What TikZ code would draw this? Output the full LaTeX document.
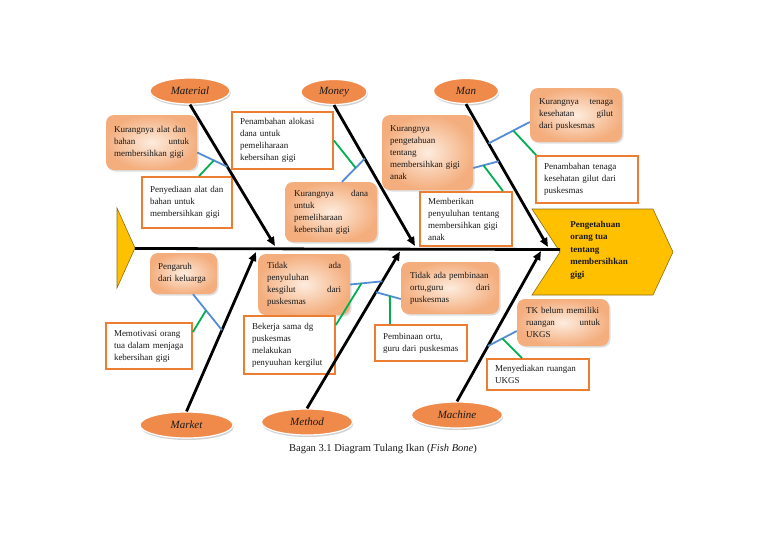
\documentclass[tikz,border=0pt]{standalone}
\usepackage{fontspec}
\setmainfont{Liberation Serif}
\usetikzlibrary{arrows.meta,shapes.geometric,shadows,calc}
\definecolor{borange}{RGB}{237,125,49}
\definecolor{pinner}{RGB}{253,236,222}
\definecolor{pouter}{RGB}{244,174,126}
\definecolor{ellorange}{RGB}{240,138,74}
\definecolor{hyellow}{RGB}{255,192,0}
\definecolor{hborder}{RGB}{140,110,20}
\definecolor{bbone}{RGB}{84,141,212}
\definecolor{gbone}{RGB}{0,176,80}
\definecolor{txt}{RGB}{25,25,25}
\newcommand\bxfont{\fontsize{9}{12}\selectfont}
\begin{document}
\begin{tikzpicture}[x=1pt,y=-1pt,
 rbox/.style={rectangle,rounded corners=8pt,inner color=pinner,outer color=pouter,
   drop shadow={opacity=0.25,shadow xshift=1.5pt,shadow yshift=-1.5pt},
   align=left,font=\bxfont,text=txt,inner xsep=8pt,inner ysep=2pt},
 wbox/.style={rectangle,draw=borange,line width=1.8pt,fill=white,align=left,
   font=\bxfont,text=txt,inner xsep=8pt,inner ysep=2pt},
 cat/.style={ellipse,fill=ellorange,draw=white,line width=1.2pt,
   drop shadow={opacity=0.35,shadow xshift=0.8pt,shadow yshift=-2pt},
   font=\fontsize{11}{13}\selectfont\itshape,text=txt,inner sep=0pt},
 bone/.style={line width=2.8pt,-{Triangle[length=9pt,width=7.5pt]}},
 bluebone/.style={draw=bbone,line width=1.8pt},
 greenbone/.style={draw=gbone,line width=1.8pt},
 headtxt/.style={align=left,font=\fontsize{9}{12.5}\selectfont\bfseries,text=txt,inner sep=0pt},
]
\useasboundingbox[fill=white] (0,0) rectangle (768,543);

% tail and head
\filldraw[fill=hyellow,draw=hborder,line width=0.6pt] (117,208) -- (135,248) -- (117,288) -- cycle;
\filldraw[fill=hyellow,draw=hborder,line width=0.6pt] (532,209) -- (653,209) -- (673,252) -- (653,295) -- (532,295) -- (560,252) -- cycle;
\node[headtxt] (head) at (599,250) {Pengetahuan\\orang tua\\tentang\\membersihkan\\gigi};
\coordinate (tail) at (135,248.5);
\coordinate (notch) at (560,249.5);
\draw[line width=2.8pt] (tail) -- (notch);

% category ellipses
\node[cat,minimum width=80pt,minimum height=26pt] (eMat) at (190,91) {Material};
\node[cat,minimum width=66pt,minimum height=25pt] (eMon) at (334,92) {Money};
\node[cat,minimum width=65pt,minimum height=25pt] (eMan) at (466,91) {Man};
\node[cat,minimum width=93pt,minimum height=26pt] (eMkt) at (186.5,425) {Market};
\node[cat,minimum width=91pt,minimum height=26pt] (eMet) at (307,422) {Method};
\node[cat,minimum width=91pt,minimum height=26pt] (eMac) at (457,415) {Machine};

% cause boxes
\node[rbox,minimum width=91pt,minimum height=55pt,text width=75pt] (b1) at (151.5,142.5)
 {Kurangnya alat dan\\bahan\hfill untuk\\membersihkan gigi};
\node[wbox,minimum width=90pt,minimum height=51pt,text width=74pt] (b2) at (187,202.5)
 {Penyediaan alat dan\\bahan untuk\\membersihkan gigi};
\node[wbox,minimum width=101pt,minimum height=57pt,text width=85pt] (b3) at (282.5,140.5)
 {Penambahan alokasi\\dana untuk\\pemeliharaan\\kebersihan gigi};
\node[rbox,minimum width=92pt,minimum height=60pt,text width=74pt] (b4) at (331,212)
 {Kurangnya\hfill dana\\untuk\\pemeliharaan\\kebersihan gigi};
\node[rbox,minimum width=91pt,minimum height=75pt,text width=75pt] (b5) at (427.5,152.5)
 {Kurangnya\\pengetahuan\\tentang\\membersihkan gigi\\anak};
\node[wbox,minimum width=92pt,minimum height=54pt,text width=76pt] (b6) at (466,219)
 {Memberikan\\penyuluhan tentang\\membersihkan gigi\\anak};
\node[rbox,minimum width=92pt,minimum height=54pt,text width=74pt] (b7) at (576,115)
 {Kurangnya\hfill tenaga\\kesehatan\hfill gilut\\dari puskesmas};
\node[wbox,minimum width=102pt,minimum height=47pt,text width=86pt] (b8) at (587,179.5)
 {Penambahan tenaga\\kesehatan gilut dari\\puskesmas};
\node[rbox,minimum width=67pt,minimum height=41pt,text width=51pt] (b9) at (183.5,273.5)
 {Pengaruh\\dari keluarga};
\node[wbox,minimum width=86pt,minimum height=46pt,text width=70pt] (b10) at (149,346)
 {Memotivasi orang\\tua dalam menjaga\\kebersihan gigi};
\node[rbox,minimum width=92pt,minimum height=61pt,text width=74pt] (b11) at (304,284.5)
 {Tidak\hfill ada\\penyuluhan\\kesgilut\hfill dari\\puskesmas};
\node[wbox,minimum width=91pt,minimum height=58pt,text width=75pt] (b12) at (289.5,345)
 {Bekerja sama dg\\puskesmas\\melakukan\\penyuuhan kergilut};
\node[rbox,minimum width=98pt,minimum height=52pt,text width=80pt] (b13) at (450,288)
 {Tidak ada pembinaan\\ortu,guru\hfill dari\\puskesmas};
\node[wbox,minimum width=92pt,minimum height=36pt,text width=76pt] (b14) at (421,343)
 {Pembinaan ortu,\\guru dari puskesmas};
\node[rbox,minimum width=92pt,minimum height=47pt,text width=74pt] (b15) at (563,322.5)
 {TK belum memiliki\\ruangan\hfill untuk\\UKGS};
\node[wbox,minimum width=102pt,minimum height=31pt,text width=86pt] (b16) at (538,374.5)
 {Menyediakan ruangan\\UKGS};

% main bones
\coordinate (tMat) at (275,246);
\coordinate (tMon) at (415,246);
\coordinate (tMan) at (548,247);
\coordinate (tMkt) at (256,252);
\coordinate (tMet) at (400,251.5);
\coordinate (tMac) at (541,251);
\draw[bone] (eMat.south) -- (tMat);
\draw[bone] (eMon.south) -- (tMon);
\draw[bone] (eMan.south) -- (tMan);
\draw[bone] (eMkt.north) -- (tMkt);
\draw[bone] (eMet.north) -- (tMet);
\draw[bone] (eMac.north) -- (tMac);

% Material sub-bones
\coordinate (m1s) at ([yshift=-10pt]b1.east);
\coordinate (m1) at ($(eMat.south)!0.44!(tMat)$);
\draw[bluebone] (m1s) -- (m1);
\coordinate (m1g) at ($(m1s)!0.55!(m1)$);
\draw[greenbone] ([xshift=12pt]b2.north) -- (m1g);

% Money sub-bones
\coordinate (n1s) at ([xshift=11pt]b4.north);
\coordinate (n1) at ($(eMon.south)!0.38!(tMon)$);
\draw[bluebone] (n1s) -- (n1);
\coordinate (n1g) at ($(n1s)!0.6!(n1)$);
\draw[greenbone] (b3.east) -- (n1g);

% Man sub-bones
\coordinate (k1s) at ([yshift=-15.5pt]b5.east);
\coordinate (k1) at ($(eMan.south)!0.40!(tMan)$);
\draw[bluebone] (k1s) -- (k1);
\coordinate (k1g) at ($(k1s)!0.4!(k1)$);
\draw[greenbone] ([xshift=37pt]b6.north) -- (k1g);
\coordinate (k2s) at ([yshift=-7pt]b7.west);
\coordinate (k2) at ($(eMan.south)!0.275!(tMan)$);
\draw[bluebone] (k2s) -- (k2);
\coordinate (k2g) at ($(k2s)!0.4!(k2)$);
\draw[greenbone] ([xshift=1pt]b8.north west) -- (k2g);

% Market sub-bones
\coordinate (q1s) at ([xshift=9.5pt]b9.south);
\coordinate (q1) at ($(eMkt.north)!0.51!(tMkt)$);
\draw[bluebone] (q1s) -- (q1);
\coordinate (q1g) at ($(q1s)!0.45!(q1)$);
\draw[greenbone] ([yshift=14pt]b10.east) -- (q1g);

% Method sub-bones
\coordinate (r1s) at (b11.east);
\coordinate (r1) at ($(eMet.north)!0.81!(tMet)$);
\draw[bluebone] (r1s) -- (r1);
\coordinate (r1g) at ($(r1s)!0.35!(r1)$);
\draw[greenbone] ([yshift=20pt]b12.east) -- (r1g);
\coordinate (r2s) at ([yshift=-11pt]b13.west);
\coordinate (r2) at ($(eMet.north)!0.741!(tMet)$);
\draw[bluebone] (r2s) -- (r2);
\coordinate (r2g) at ($(r2s)!0.44!(r2)$);
\draw[greenbone] ([xshift=-31pt]b14.north) -- (r2g);

% Machine sub-bones
\coordinate (s1s) at ([yshift=-8.5pt]b15.west);
\coordinate (s1) at ($(eMac.north)!0.368!(tMac)$);
\draw[bluebone] (s1s) -- (s1);
\coordinate (s1g) at ($(s1s)!0.5!(s1)$);
\draw[greenbone] ([xshift=-16pt]b16.north) -- (s1g);

% caption
\node[font=\fontsize{10.5}{12}\selectfont,text=txt] (cap) at (383,449)
 {Bagan 3.1 Diagram Tulang Ikan (\textit{Fish Bone})};
\end{tikzpicture}
\end{document}
